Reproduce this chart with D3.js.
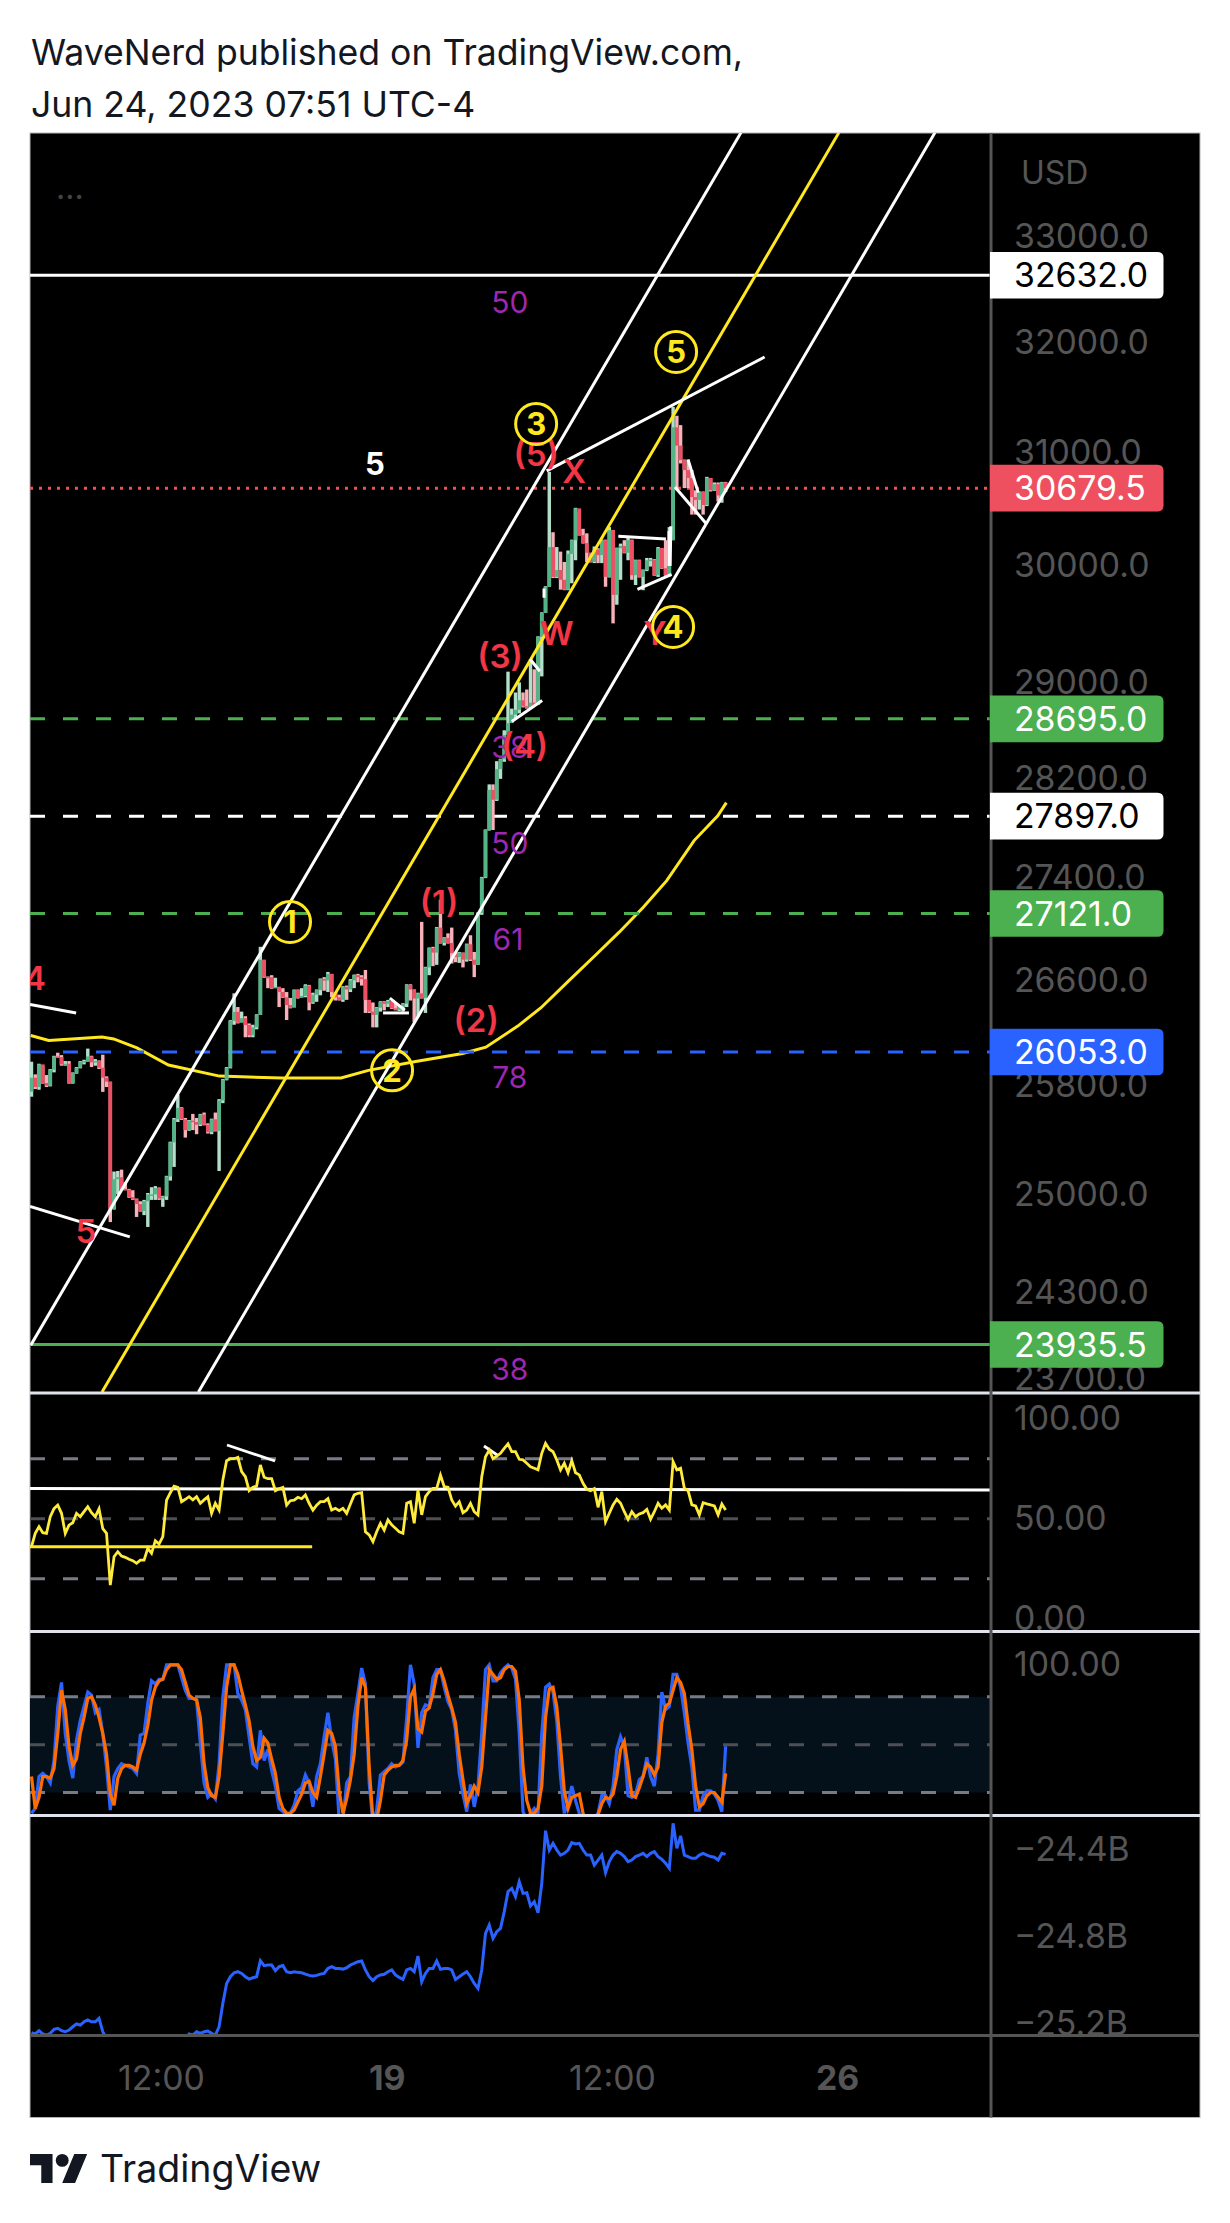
<!DOCTYPE html>
<html>
<head>
<meta charset="utf-8">
<script src="https://cdn.jsdelivr.net/npm/d3@7"></script>
<style>
  html, body { margin: 0; padding: 0; background: #fff; }
  svg { display: block; }
  text { font-family: Inter, "Noto Sans", sans-serif; }
</style>
</head>
<body>
<svg id="chart" width="1230" height="2223"></svg>
<script>
// 15m-ish candles, index 0..185. Open of a bar is the previous close.
const closes = [25860,25790,25960,25820,25800,25920,26020,26015,25960,25965,25820,25895,25935,25980,25985,26020,25975,25985,25935,25860,
  25830,24895,25110,25125,25040,25035,24980,24965,24930,24880,24950,25000,25000,25045,24970,24985,25130,25380,25550,25635,
  25550,25470,25540,25530,25510,25585,25510,25455,25550,25465,25690,25845,25935,26290,26358,26275,26310,26258,26180,26240,
  26335,26759,26627,26625,26540,26550,26510,26470,26410,26390,26525,26465,26480,26560,26430,26490,26525,26610,26600,26650,
  26510,26470,26450,26550,26530,26600,26640,26625,26610,26449,26360,26335,26390,26435,26420,26440,26385,26375,26400,26420,
  26565,26530,26460,26500,26465,26700,26850,26815,27010,26890,26930,26890,26810,26780,26815,26760,26880,26760,26720,27125,
  27405,27785,28110,28030,28280,28360,28560,28660,28730,28770,28850,28800,28790,28830,28810,29385,29590,29815,30160,29900,
  29960,29875,29790,30100,30220,30500,30265,30195,30110,30030,30140,30090,30220,29900,30308,29745,30150,30170,30110,30220,
  29915,30045,29900,29960,30045,30050,29915,30150,29975,29915,30220,31225,31060,30930,30840,30770,30600,30575,30645,30530,
  30770,30660,30715,30615,30730,30679.5];
const highs = [25980,25885,25965,25950,25880,25925,26025,26048,26030,25985,25985,25900,25940,25985,25995,26079,26025,26000,25990,26033,
  25870,25830,25166,25170,25180,25090,25040,25030,24970,24950,24960,25010,25052,25060,25050,24990,25135,25385,25560,25732,
  25640,25560,25545,25590,25560,25590,25600,25520,25555,25600,25700,25850,25940,26295,26500,26395,26360,26325,26270,26260,
  26340,26860,26759,26630,26640,26620,26550,26540,26510,26465,26530,26530,26540,26570,26565,26505,26530,26615,26625,26665,
  26650,26510,26490,26555,26560,26610,26645,26650,26640,26680,26450,26430,26395,26440,26440,26450,26435,26425,26410,26425,
  26570,26570,26530,26505,27055,26705,26855,26860,27015,27230,26935,26965,27010,26820,26820,26815,26885,26950,26820,27130,
  27410,27790,28155,28155,28345,28365,28600,29090,28780,28915,29000,28915,28940,29195,29110,29390,29595,29820,30825,30290,
  30160,30120,30030,30130,30225,30505,30465,30320,30280,30110,30165,30150,30225,30225,30335,30310,30155,30190,30220,30240,
  30225,30050,30050,29965,30065,30065,30055,30160,30150,30220,30335,31410,31330,31245,30935,30935,30840,30660,30650,30650,
  30780,30770,30730,30730,30735,30735];
const lows = [25718,25775,25770,25815,25790,25795,25900,26010,25950,25950,25815,25815,25890,25930,25960,25980,25940,25950,25925,25754,
  25790,24800,24890,25000,25035,25030,24975,24960,24837,24875,24850,24765,24960,24960,24960,24910,24960,25100,25200,25530,
  25545,25415,25465,25470,25440,25500,25505,25445,25440,25460,25170,25670,25840,25930,26260,26270,26290,26165,26165,26165,
  26225,26335,26620,26540,26535,26545,26395,26465,26296,26385,26395,26460,26475,26470,26370,26420,26435,26485,26520,26510,
  26470,26445,26445,26435,26450,26510,26540,26585,26560,26350,26350,26240,26240,26360,26370,26395,26380,26370,26365,26360,
  26395,26445,26280,26320,26460,26350,26640,26710,26720,26885,26870,26885,26730,26740,26735,26700,26745,26750,26625,26720,
  27110,27400,27780,27785,28020,28200,28340,28560,28680,28700,28740,28790,28780,28780,28805,28830,29050,29590,29815,29890,
  29890,29790,29785,29785,29845,30045,30260,30190,30030,30025,30020,30020,30020,29815,29895,29500,29660,29875,30105,30045,
  29875,29830,29895,29785,29950,29990,29910,29900,29970,29910,29905,30220,30660,30900,30680,30680,30445,30445,30490,30445,
  30520,30650,30655,30560,30550,30645];

const rsiValues = [36,42.7,46,43,42.7,51,55,56.8,52.7,42.7,46.8,48,52.7,51,53.5,56,53,51,55,45,
  42.7,16.8,31,33.5,31.3,30.7,29.7,29,27.7,29.3,29.3,35.2,32.7,39,37.3,41,59.3,63,66.3,65.7,
  58.5,59.7,61,59.4,61,57.7,59.4,61,52.7,57.7,54.3,69.4,79,80,80,80.7,73.5,71,64,65.7,
  66.3,76.9,70.7,70,70,64,65,65.7,56.8,59,59.3,60.7,60,61.9,57.7,54.3,56.8,58.5,58.5,60,
  54.3,55.2,54,55.2,52.7,57.4,61.9,62.7,63,43.5,41.9,38.5,43.5,47.7,44.3,49.4,46.9,45.2,43.5,42.7,
  57.7,58.5,47.7,64.4,51.9,61,63.5,65.2,65.2,71.8,66,65.7,59.4,56.3,58.5,53,54.3,57.7,53.5,51.9,
  71,81,84.3,80,81.3,82.7,85.2,87.4,83.5,83.5,79.7,79.4,77.7,76,75.2,74.4,82.7,87.7,84.7,83.5,
  79.4,74.4,77.7,73,79,73,71.9,67.7,64.7,64,65,55.7,63.5,48.5,52.7,56.9,59.7,57.7,53.5,49.7,
  53.5,51,52.4,53,54.7,49.7,53.5,57.7,55.2,56.9,54.3,78.5,74.4,75.2,65.2,64,56.9,56.4,51.9,58,
  57.4,56.9,56.4,51.9,57.4,54.4];

const stochK = [7,10,30,32,30,26,40,74,89,57,40,29,53,65,74,83,81,70,72,57,
  36,9,30,35,38,37,36,35,32,56,57,76,90,88,91,91,100,100,100,100,
  92,84,79,79,78,51,26,17,19,16,38,80,100,100,100,82,78,72,55,38,
  36,59,40,47,34,24,10,8,6,7,12,21,23,31,26,11,30,38,55,70,
  53,41,3,3,26,30,67,82,98,88,26,1,9,31,33,35,38,36,37,39,
  67,100,88,48,70,75,74,92,97,97,86,77,72,59,32,19,8,25,11,24,
  57,97,100,90,90,95,98,100,98,91,57,8,3,7,10,7,57,86,88,83,
  65,30,7,13,24,15,7,1,1,1,4,7,18,18,13,24,47,55,49,18,
  17,19,28,30,42,30,24,44,83,72,74,94,94,86,70,51,36,9,9,18,
  21,21,19,15,8,49];
const stochD = [30,10,17,30,30,29,35,57,84,72,49,37,41,57,67,79,80,75,67,57,
  44,19,12,29,35,37,37,36,34,44,51,62,78,86,90,91,97,100,100,100,
  97,89,81,79,78,67,38,23,18,17,30,57,86,100,100,94,84,75,65,49,
  40,42,54,51,41,32,17,10,7,7,9,14,19,26,27,20,17,30,44,59,
  57,49,21,7,16,28,44,74,92,86,36,3,3,15,31,34,36,37,37,40,
  53,80,85,60,58,71,73,82,94,97,90,81,73,64,44,28,13,18,24,20,
  36,67,97,94,91,92,97,99,99,96,78,36,15,7,7,10,24,67,85,86,
  74,49,21,10,17,18,19,7,1,1,3,6,13,17,16,19,30,47,52,36,
  18,17,23,30,38,36,31,36,64,74,76,84,92,89,82,63,47,24,11,13,
  18,20,20,17,14,32];

// billions; bars 21..41 sit below the pane and are only estimates
const cvdValues = [-25.242,-25.248,-25.233,-25.248,-25.253,-25.245,-25.227,-25.222,-25.233,-25.238,-25.23,-25.215,-25.202,-25.207,-25.192,-25.184,-25.192,-25.192,-25.176,-25.238,
  -25.268,-25.31,-25.35,-25.36,-25.37,-25.37,-25.38,-25.38,-25.39,-25.38,-25.37,-25.36,-25.35,-25.34,-25.34,-25.33,-25.32,-25.31,-25.3,-25.29,
  -25.28,-25.27,-25.248,-25.253,-25.238,-25.245,-25.238,-25.235,-25.245,-25.253,-25.215,-25.107,-25.016,-24.985,-24.967,-24.962,-24.97,-24.985,-24.996,-24.99,
  -24.985,-24.911,-24.934,-24.931,-24.931,-24.957,-24.939,-24.934,-24.962,-24.967,-24.962,-24.965,-24.967,-24.973,-24.979,-24.982,-24.979,-24.973,-24.97,-24.947,
  -24.939,-24.947,-24.947,-24.95,-24.944,-24.931,-24.924,-24.916,-24.913,-24.954,-24.985,-25.003,-24.985,-24.977,-24.974,-24.962,-24.954,-24.977,-24.988,-24.997,
  -24.954,-24.947,-24.962,-24.89,-25.008,-24.97,-24.947,-24.947,-24.913,-24.951,-24.947,-24.947,-24.954,-24.997,-24.985,-24.973,-24.962,-24.985,-25.016,-25.039,
  -24.954,-24.786,-24.747,-24.809,-24.778,-24.763,-24.686,-24.594,-24.579,-24.617,-24.548,-24.602,-24.599,-24.66,-24.64,-24.691,-24.556,-24.314,-24.403,-24.372,
  -24.403,-24.426,-24.418,-24.403,-24.369,-24.375,-24.372,-24.403,-24.426,-24.426,-24.472,-24.449,-24.426,-24.507,-24.456,-24.426,-24.41,-24.418,-24.433,-24.456,
  -24.449,-24.433,-24.426,-24.418,-24.433,-24.418,-24.41,-24.433,-24.446,-24.464,-24.487,-24.28,-24.395,-24.338,-24.426,-24.433,-24.441,-24.441,-24.426,-24.418,
  -24.426,-24.433,-24.436,-24.449,-24.418,-24.423];

// moving average, read at its bends
const maIndex = [-0.2,4.6,18.8,21.9,28.1,36.5,50.1,66.8,82.5,89.8,102.4,114.9,121.1,129.6,135.8,143.1,150.5,156.7,163,169.3,176.6,182.9,185.2];
const maValues = [26178,26140,26167,26152,26085,25955,25872,25858,25858,25915,25982,26042,26090,26250,26390,26594,26800,26976,27167,27380,27700,27899,28006];

// axis ticks
const priceTicks = [33000,32000,31000,30000,29000,28200,27400,26600,25800,25000,24300,23700];
const rsiTicks = [100,50,0];
const stochTicks = [100];
const cvdTicks = [-24.4,-24.8,-25.2];
const timeTicks = [34.5,94.7,154.7,214.7];
const timeLabels = ["12:00","19","12:00","26"];
const timeBold = [false,true,false,true];

// horizontal price lines and their axis tags
const levelPrices = [32632,30679.5,28695,27897,27121,26053,23935.5];
const levelColors = ["#ffffff","#ef5350","#4caf50","#ffffff","#4caf50","#2962ff","#4caf50"];
const levelBoxes = ["#ffffff","#ef5060","#4caf50","#ffffff","#4caf50","#2962ff","#4caf50"];
const levelText = ["#000000","#ffffff","#ffffff","#000000","#ffffff","#ffffff","#ffffff"];
const levelDash = ["none","3 6","15 18","15 18","15 18","15 18","none"];
const levelWidth = [3,3,3,3,3,3,3];

// channel and drawn trend lines: [index, price, index, price]
const channelWhite = [[-0.2,23931,189.1,34010],[44.5,23608,240.8,34010]];
const channelYellow = [[18.8,23608,215.2,34010]];
const trendLines = [
  [137.3,30834,195.4,31868],[-0.4,26415,11.9,26350],[-0.4,24912,26.2,24694],
  [95.5,26464,99.5,26372],[93.7,26350,100.6,26350],
  [128,28673,136.1,28847],[132.9,29195,135.5,29093],[136.6,29800,136.6,29720],
  [156.4,30255,169.1,30230],[161.5,29793,170.6,29923],[170.2,29995,170.4,30343],
  [169.9,29995,169.9,30300],[171.5,30690,179.8,30367],[175,30934,177.7,30640]
];
const rsiLines = [[52.1,86.85,64.9,78.85],[120.6,86.35,124.1,81.85]];

// chart annotations
const fibText = ["50","38","50","61","78","38"];
const fibIndex = [127.5,127.5,127.5,127,127.5,127.5];
const fibPrice = [32374,28463,27680,26921,25865,23767];
const redText = ["(5)","X","W","Y","(3)","(4)","(1)","(2)","4","5"];
const redIndex = [134.5,144.6,140,166.2,124.9,131.5,108.6,118.5,0.9,14.5];
const redPrice = [30985,30834,29420,29420,29223,28470,27213,26299,26619,24737];
const circleText = ["3","5","4","1","2"];
const circleIndex = [134.5,171.8,171,68.9,96.1];
const circlePrice = [31255,31914,29469,27054,25915];

const L = 30, R = 1200, SEP = 991, AXT = 1014;
const TOP = 133, P1 = 1393, P2 = 1631.5, P3 = 1815.5, P4 = 2035.5, BOT = 2117.5;
const axisGray = "#555555";
const AXIS_SIZE = 33.8;

const svg = d3.select("#chart");

const x = d3.scaleLinear().domain([0, 100]).range([31.5, 31.5 + 375.2]);
const y = d3.scaleLog().domain([33000, 23700]).range([236.6, 1378.6]);
const yRsi = d3.scaleLinear().domain([0, 100]).range([1618.7, 1418.7]);
const yStoch = d3.scaleLinear().domain([0, 100]).range([1824.4, 1664.9]);
const yCvd = d3.scaleLinear().domain([-24.4, -25.2]).range([1849.4, 2023.5]);

// title
svg.append("text").attr("x", 31).attr("y", 65).attr("font-size", 35.6).attr("fill", "#131722")
  .text("WaveNerd published on TradingView.com,");
svg.append("text").attr("x", 31).attr("y", 117).attr("font-size", 35.6).attr("fill", "#131722")
  .text("Jun 24, 2023 07:51 UTC-4");

// black chart
svg.append("rect").attr("x", L).attr("y", TOP).attr("width", R - L).attr("height", BOT - TOP)
  .attr("fill", "#000").attr("stroke", "#b2b5be").attr("stroke-width", 1);

const defs = svg.append("defs");
function addClip(id, y0, y1) {
  defs.append("clipPath").attr("id", id).append("rect")
    .attr("x", L).attr("y", y0).attr("width", SEP - L).attr("height", y1 - y0);
}
addClip("clipMain", TOP, P1);
addClip("clipRsi", P1, P2);
addClip("clipStoch", P2, P3);
addClip("clipCvd", P3, P4);

const main = svg.append("g").attr("clip-path", "url(#clipMain)");

// moving average under the candles
const maLine = d3.line().x((d, i) => x(maIndex[i])).y(d => y(d));
main.append("path").datum(maValues).attr("d", maLine)
  .attr("fill", "none").attr("stroke", "#ffe81f").attr("stroke-width", 3);

// level lines
main.selectAll(".level").data(levelPrices).enter().append("line").attr("class", "level")
  .attr("x1", L).attr("x2", SEP)
  .attr("y1", d => y(d)).attr("y2", d => y(d))
  .attr("stroke", (d, i) => levelColors[i])
  .attr("stroke-width", (d, i) => levelWidth[i])
  .attr("stroke-dasharray", (d, i) => levelDash[i]);

// candles
const candles = closes.map((c, i) => ({
  i, close: c, high: highs[i], low: lows[i], open: i ? closes[i - 1] : lows[i] + 37
}));
const bar = main.selectAll(".bar").data(candles).enter().append("g").attr("class", "bar");
bar.append("rect")
  .attr("x", d => x(d.i) - 1.7).attr("width", 3.4)
  .attr("y", d => y(d.high)).attr("height", d => Math.max(1, y(d.low) - y(d.high)))
  .attr("fill", d => d.close >= d.open ? "#b2dfc9" : "#f8b0b9");
bar.append("rect")
  .attr("x", d => x(d.i) - 1.9).attr("width", 3.8)
  .attr("y", d => y(Math.max(d.open, d.close)))
  .attr("height", d => Math.max(1.5, Math.abs(y(d.open) - y(d.close))))
  .attr("fill", d => d.close >= d.open ? "#55b487" : "#ef4f62");

// channel
function drawSegs(parent, rows, yScale, color, width) {
  parent.selectAll(null).data(rows).enter().append("line")
    .attr("x1", d => x(d[0])).attr("y1", d => yScale(d[1]))
    .attr("x2", d => x(d[2])).attr("y2", d => yScale(d[3]))
    .attr("stroke", color).attr("stroke-width", width);
}
drawSegs(main, channelWhite, y, "#ffffff", 3);
drawSegs(main, channelYellow, y, "#ffe81f", 3);
drawSegs(main, trendLines, y, "#ffffff", 3);

// fib numbers
main.selectAll(null).data(fibText).enter().append("text")
  .attr("x", (d, i) => x(fibIndex[i])).attr("y", (d, i) => y(fibPrice[i]))
  .attr("dy", "0.36em").attr("text-anchor", "middle")
  .attr("font-size", 30).attr("fill", "#9c27b0").text(d => d);

// wave labels
main.selectAll(null).data(redText).enter().append("text")
  .attr("x", (d, i) => x(redIndex[i])).attr("y", (d, i) => y(redPrice[i]))
  .attr("dy", "0.36em").attr("text-anchor", "middle")
  .attr("font-size", 33).attr("font-weight", 600).attr("fill", "#f23645").text(d => d);
main.append("text").attr("x", x(91.5)).attr("y", y(30895)).attr("dy", "0.36em")
  .attr("text-anchor", "middle").attr("font-size", 31).attr("font-weight", 700)
  .attr("fill", "#ffffff").text("5");

const circ = main.selectAll(".wave").data(circleText).enter().append("g").attr("class", "wave")
  .attr("transform", (d, i) => `translate(${x(circleIndex[i])},${y(circlePrice[i])})`);
circ.append("circle").attr("r", 20.5).attr("fill", "none").attr("stroke", "#ffe81f").attr("stroke-width", 3);
circ.append("text").attr("dy", "0.36em").attr("text-anchor", "middle")
  .attr("font-size", 31).attr("font-weight", 700).attr("fill", "#ffe81f").text(d => d);

svg.append("text").attr("x", 56).attr("y", 199).attr("font-size", 32).attr("fill", "#444").text("...");

// RSI pane
const rsi = svg.append("g").attr("clip-path", "url(#clipRsi)");
[80, 50, 20].forEach(v => {
  rsi.append("line").attr("x1", L).attr("x2", SEP).attr("y1", yRsi(v)).attr("y2", yRsi(v))
    .attr("stroke", v === 50 ? "#4d4f55" : "#787b86").attr("stroke-width", 3).attr("stroke-dasharray", "15 18");
});
drawSegs(rsi, [[-0.4, 65.05, 255.7, 64.35]], yRsi, "#ffffff", 3);
drawSegs(rsi, [[-0.4, 36, 74.8, 36]], yRsi, "#ffe81f", 3);
drawSegs(rsi, rsiLines, yRsi, "#ffffff", 2.8);
const lineOf = yScale => d3.line().x((d, i) => x(i)).y(d => yScale(d));
rsi.append("path").datum(rsiValues).attr("d", lineOf(yRsi))
  .attr("fill", "none").attr("stroke", "#ffeb3b").attr("stroke-width", 2.8);

// stochastic pane
const stoch = svg.append("g").attr("clip-path", "url(#clipStoch)");
stoch.append("rect").attr("x", L).attr("width", SEP - L)
  .attr("y", yStoch(80)).attr("height", yStoch(20) - yStoch(80)).attr("fill", "#04111a");
[80, 50, 20].forEach(v => {
  stoch.append("line").attr("x1", L).attr("x2", SEP).attr("y1", yStoch(v)).attr("y2", yStoch(v))
    .attr("stroke", v === 50 ? "#4d4f55" : "#787b86").attr("stroke-width", 3).attr("stroke-dasharray", "15 18");
});
stoch.append("path").datum(stochK).attr("d", lineOf(yStoch))
  .attr("fill", "none").attr("stroke", "#2962ff").attr("stroke-width", 3.2);
stoch.append("path").datum(stochD).attr("d", lineOf(yStoch))
  .attr("fill", "none").attr("stroke", "#ff6d00").attr("stroke-width", 3.2);

// cvd pane
svg.append("g").attr("clip-path", "url(#clipCvd)")
  .append("path").datum(cvdValues).attr("d", lineOf(yCvd))
  .attr("fill", "none").attr("stroke", "#2962ff").attr("stroke-width", 3);

// axis labels
function styleAxis(g, bold) {
  g.select(".domain").remove();
  g.selectAll("text").attr("font-size", AXIS_SIZE).attr("fill", axisGray)
    .style("font-family", "Inter, 'Noto Sans', sans-serif");
  if (bold) g.selectAll("text").attr("font-weight", (d, i) => bold[i] ? 700 : 400);
}
function rightAxis(scale, ticks, fmt) {
  svg.append("g").attr("transform", `translate(${AXT},0)`)
    .call(d3.axisRight(scale).tickValues(ticks).tickSize(0).tickPadding(0).tickFormat(fmt))
    .call(g => styleAxis(g));
}
rightAxis(y, priceTicks, d3.format(".1f"));
rightAxis(yRsi, rsiTicks, d3.format(".2f"));
rightAxis(yStoch, stochTicks, d3.format(".2f"));
rightAxis(yCvd, cvdTicks, d => "\u2212" + Math.abs(d).toFixed(1) + "B");

const timeG = svg.append("g").attr("transform", "translate(0,2078)")
  .call(d3.axisBottom(x).tickValues(timeTicks).tickSize(0).tickFormat((d, i) => timeLabels[i]))
  .call(g => styleAxis(g, timeBold));
timeG.selectAll("text").attr("y", 0).attr("dy", "0.36em");

svg.append("text").attr("x", 1021).attr("y", 172).attr("dy", "0.36em")
  .attr("font-size", 32).attr("fill", axisGray).text("USD");

// dividers
[P1, P2, P3].forEach(v => {
  svg.append("line").attr("x1", L).attr("x2", R).attr("y1", v).attr("y2", v)
    .attr("stroke", "#e0e3eb").attr("stroke-width", 3);
});
svg.append("line").attr("x1", L).attr("x2", R).attr("y1", P4).attr("y2", P4)
  .attr("stroke", axisGray).attr("stroke-width", 3);
svg.append("line").attr("x1", SEP).attr("x2", SEP).attr("y1", TOP).attr("y2", BOT)
  .attr("stroke", axisGray).attr("stroke-width", 3);

// price tags
const tag = svg.selectAll(".tag").data(levelPrices).enter().append("g").attr("class", "tag");
tag.append("path")
  .attr("d", d => {
    const c = y(d), h = 23.3, r = 6, x1 = 1163.5;
    return `M${SEP - 1},${c - h}H${x1 - r}Q${x1},${c - h} ${x1},${c - h + r}V${c + h - r}Q${x1},${c + h} ${x1 - r},${c + h}H${SEP - 1}Z`;
  })
  .attr("fill", (d, i) => levelBoxes[i]);
tag.append("text").attr("x", AXT).attr("y", d => y(d)).attr("dy", "0.36em")
  .attr("font-size", AXIS_SIZE).attr("fill", (d, i) => levelText[i])
  .text(d => d.toFixed(1));

// logo
const logo = svg.append("g").attr("transform", "translate(30,2147.5) scale(1.61)").attr("fill", "#131722");
logo.append("path").attr("d", "M14 22H7V11H0V4h14v18zM28 22h-8l7.5-18h8L28 22z");
logo.append("circle").attr("cx", 20).attr("cy", 8).attr("r", 4);
svg.append("text").attr("x", 100).attr("y", 2182).attr("font-size", 37.5).attr("fill", "#131722").text("TradingView");
</script>
</body>
</html>
